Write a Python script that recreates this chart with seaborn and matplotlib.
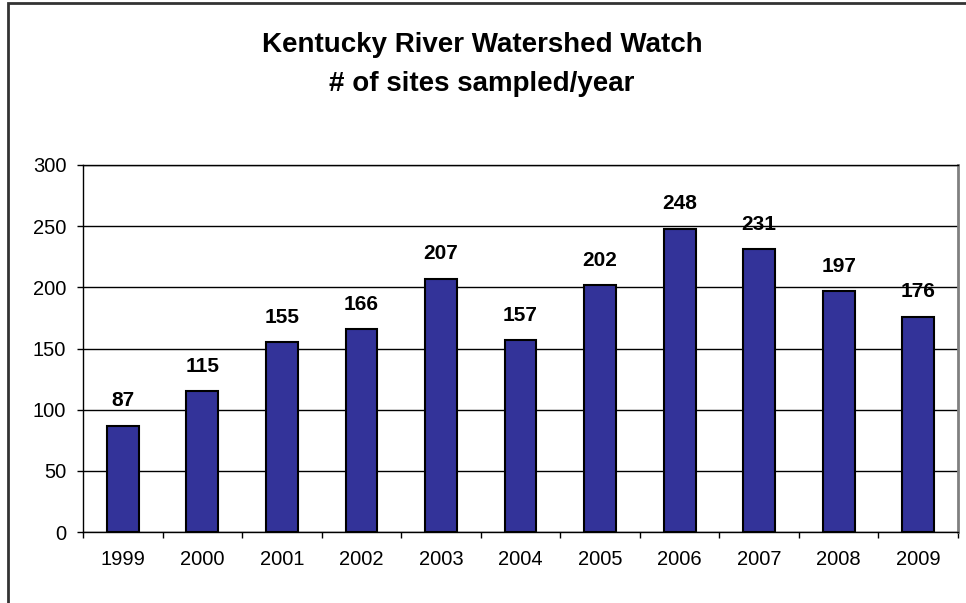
import matplotlib
matplotlib.use("Agg")
import matplotlib.pyplot as plt
import seaborn as sns
import pandas as pd
from matplotlib.patches import Rectangle

years = ["1999", "2000", "2001", "2002", "2003", "2004", "2005", "2006", "2007", "2008", "2009"]
sites = [87, 115, 155, 166, 207, 157, 202, 248, 231, 197, 176]
y_ticks = [0, 50, 100, 150, 200, 250, 300]
title_line1 = "Kentucky River Watershed Watch"
title_line2 = "# of sites sampled/year"

sns.set_theme(style="white")
plt.rcParams['font.family'] = ['Liberation Sans', 'DejaVu Sans']

df = pd.DataFrame({"year": years, "sites": sites})

fig = plt.figure(figsize=(9.66, 6.03), dpi=100)
fig.patch.set_facecolor("white")
ax = fig.add_axes([83/966, 1 - 532/603, (958-83)/966, (532-165)/603])

sns.barplot(data=df, x="year", y="sites", color="#333399", saturation=1,
            width=0.4, edgecolor="black", linewidth=1.5, ax=ax, zorder=3)

ax.set_ylim(0, 300)
ax.set_xlim(-0.5, len(years) - 0.5)
ax.set_yticks(y_ticks)
ax.yaxis.grid(True, color="black", linewidth=1)
ax.set_axisbelow(True)
ax.set_xlabel("")
ax.set_ylabel("")

ax.tick_params(axis="y", which="major", direction="out", length=4, width=1,
               color="black", labelsize=14.5, pad=8, left=True)
ax.tick_params(axis="x", which="major", length=0, labelsize=14.5, pad=13)
ax.set_xticks([i - 0.5 for i in range(len(years) + 1)], minor=True)
ax.tick_params(axis="x", which="minor", direction="out", length=4, width=1,
               color="black", bottom=True)
for lab in ax.get_xticklabels() + ax.get_yticklabels():
    lab.set_color("black")

for side in ["left", "bottom", "top"]:
    ax.spines[side].set_visible(True)
    ax.spines[side].set_color("black")
    ax.spines[side].set_linewidth(1)
ax.spines["right"].set_visible(True)
ax.spines["right"].set_color("#808080")
ax.spines["right"].set_linewidth(2)

ax.bar_label(ax.containers[0], labels=[str(v) for v in sites], padding=11,
             fontsize=15, fontweight="bold", color="black")

fig.text(482/966, 1 - 45/603, title_line1, ha="center", va="center",
         fontsize=20, fontweight="bold", color="black")
fig.text(482/966, 1 - 84/603, title_line2, ha="center", va="center",
         fontsize=20, fontweight="bold", color="black")

fig.patches.append(Rectangle((8/966, -0.05), 1.1, 1 - 3/603 + 0.05,
                             transform=fig.transFigure, fill=False,
                             edgecolor="#333333", linewidth=2))

fig.savefig("out.png", dpi=100)
